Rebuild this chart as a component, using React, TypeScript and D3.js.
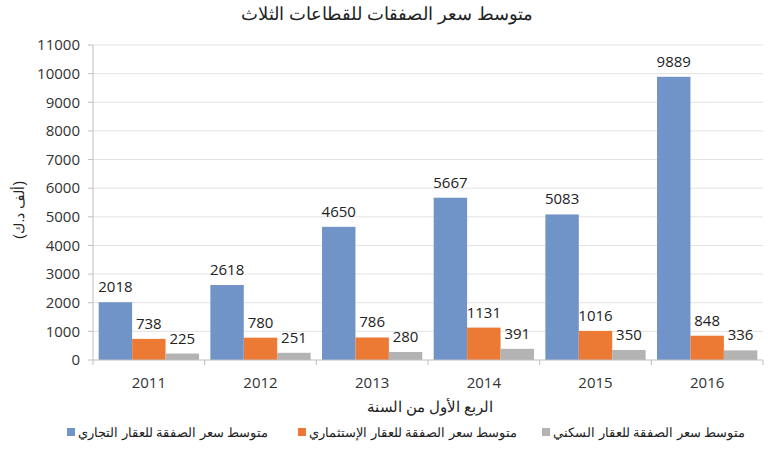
import React from "react";
import * as d3 from "d3";

const years = ["2011", "2012", "2013", "2014", "2015", "2016"];
const commercial = [2018, 2618, 4650, 5667, 5083, 9889];
const investment = [738, 780, 786, 1131, 1016, 848];
const residential = [225, 251, 280, 391, 350, 336];
const seriesNames = [
  "متوسط سعر الصفقة للعقار التجاري",
  "متوسط سعر الصفقة للعقار الإستثماري",
  "متوسط سعر الصفقة للعقار السكني",
];
const seriesColors = ["#7094C8", "#EC7A34", "#B3B3B3"];
const yTicks = [0, 1000, 2000, 3000, 4000, 5000, 6000, 7000, 8000, 9000, 10000, 11000];
const title = "متوسط سعر الصفقات للقطاعات الثلاث";
const xTitle = "الربع الأول من السنة";
const yTitle = "(ألف د.ك)";

const W = 770;
const H = 452;
const left = 93;
const right = 763;
const top = 45;
const bottom = 360;
const font = "'Open Sans', 'DejaVu Sans', sans-serif";
const arFont = "'Liberation Sans', Arial, sans-serif";

export default function App() {
  const series = [commercial, investment, residential];
  const x0 = d3.scaleBand<string>().domain(years).range([left, right]).padding(0);
  const x1 = d3
    .scaleBand<number>()
    .domain([0, 1, 2])
    .range([0, x0.bandwidth()])
    .paddingInner(0)
    .paddingOuter(0.17);
  const y = d3.scaleLinear().domain([0, 11000]).range([bottom, top]);

  const legendX = [67, 298, 542];

  return (
    <svg
      width={W}
      height={H}
      style={{ position: "absolute", left: 0, top: 0, background: "#fff" }}
    >
      <text x={387} y={20} textAnchor="middle" fontFamily={arFont} fontSize={18} fill="#222">
        {title}
      </text>
      {yTicks.map((t) => (
        <g key={t}>
          {t > 0 && (
            <line x1={left} x2={right} y1={y(t)} y2={y(t)} stroke="#e3e3e3" strokeWidth={1} />
          )}
          <line x1={left - 5} x2={left} y1={y(t)} y2={y(t)} stroke="#bfbfbf" />
          <text
            x={80}
            y={y(t)}
            dy="0.35em"
            textAnchor="end"
            fontFamily={font}
            fontSize={15}
            fill="#333"
          >
            {t}
          </text>
        </g>
      ))}
      {series.map((vals, si) =>
        years.map((yr, i) => {
          const bx = (x0(yr) as number) + (x1(si) as number);
          const bw = x1.bandwidth();
          return (
            <g key={`${si}-${yr}`}>
              <rect
                x={bx}
                y={y(vals[i])}
                width={bw}
                height={bottom - y(vals[i])}
                fill={seriesColors[si]}
              />
              <text
                x={bx + bw / 2}
                y={y(vals[i]) - 10}
                textAnchor="middle"
                fontFamily={font}
                fontSize={15}
                fill="#222"
              >
                {vals[i]}
              </text>
            </g>
          );
        })
      )}
      <line x1={left} x2={left} y1={top} y2={bottom} stroke="#bfbfbf" />
      <line x1={left} x2={right} y1={bottom} y2={bottom} stroke="#bfbfbf" />
      {years.map((yr) => (
        <line
          key={yr}
          x1={x0(yr) as number}
          x2={x0(yr) as number}
          y1={bottom}
          y2={bottom + 5}
          stroke="#bfbfbf"
        />
      ))}
      <line x1={right} x2={right} y1={bottom} y2={bottom + 5} stroke="#bfbfbf" />
      {years.map((yr) => (
        <text
          key={yr}
          x={(x0(yr) as number) + x0.bandwidth() / 2}
          y={388}
          textAnchor="middle"
          fontFamily={font}
          fontSize={15}
          fill="#333"
        >
          {yr}
        </text>
      ))}
      <text x={430} y={412} textAnchor="middle" fontFamily={arFont} fontSize={15} fill="#222">
        {xTitle}
      </text>
      <text
        transform={`translate(24,210) rotate(-90)`}
        textAnchor="middle"
        fontFamily={arFont}
        fontSize={14}
        fill="#222"
      >
        {yTitle}
      </text>
      {seriesNames.map((name, i) => (
        <g key={name}>
          <rect x={legendX[i]} y={428} width={8} height={8} fill={seriesColors[i]} />
          <text
            x={legendX[i] + 11}
            y={437}
            textAnchor="start"
            fontFamily={arFont}
            fontSize={12.8}
            fill="#222"
          >
            {name}
          </text>
        </g>
      ))}
    </svg>
  );
}
